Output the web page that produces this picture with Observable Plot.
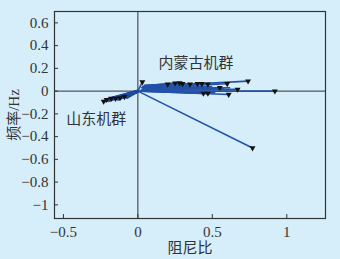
<!DOCTYPE html>
<html><head><meta charset="utf-8">
<script src="https://cdn.jsdelivr.net/npm/d3@7"></script>
<script src="https://cdn.jsdelivr.net/npm/@observablehq/plot@0.6"></script>
<style>
html,body{margin:0;padding:0;background:#d5eefa;}
#c{width:340px;height:259px;}
</style></head>
<body><div id="c"></div>
<script>
// 内蒙古机群 tracks: start (x0,y0) -> end (x,y), damping ratio vs frequency Hz
const nmX0 = [0.00, 0.02, 0.03, 0.03, 0.04, 0.04, 0.05, 0.05, 0.04, 0.05, 0.05, 0.05, 0.05, 0.05,
              0.03, 0.03, 0.04, 0.04, 0.04, 0.05, 0.05, 0.05, 0.05, 0.05, 0.05, 0.05, 0.00,
              0.02, 0.02, 0.02, 0.03, 0.03, 0.03, 0.03, 0.03, 0.00];
const nmY0 = [0.00, 0.03, 0.035, 0.04, 0.045, 0.05, 0.05, 0.045, 0.05, 0.045, 0.04, 0.045, 0.04, 0.04,
              0.02, 0.025, 0.03, 0.02, 0.03, 0.025, 0.02, 0.03, 0.02, 0.015, 0.02, 0.01, 0.00,
              0.01, 0.00, 0.005, 0.00, 0.00, 0.005, 0.00, 0.00, 0.00];
const nmX = [0.03, 0.10, 0.15, 0.20, 0.25, 0.28, 0.30, 0.35, 0.40, 0.43, 0.47, 0.55, 0.60, 0.74,
             0.12, 0.18, 0.25, 0.30, 0.35, 0.40, 0.45, 0.50, 0.55, 0.58, 0.62, 0.67, 0.92,
             0.15, 0.20, 0.30, 0.40, 0.44, 0.47, 0.52, 0.61, 0.77];
const nmY = [0.08, 0.05, 0.055, 0.06, 0.07, 0.072, 0.065, 0.06, 0.065, 0.065, 0.06, 0.06, 0.065, 0.088,
             0.04, 0.045, 0.04, 0.035, 0.04, 0.03, 0.035, 0.04, 0.03, 0.02, 0.03, 0.015, 0.0,
             0.02, 0.01, 0.0, -0.005, -0.02, -0.02, -0.015, -0.03, -0.50];
// 山东机群 tracks: start at the origin
const sdX0 = [0, 0, 0, 0, 0, 0, 0, 0, 0, 0, 0, 0];
const sdY0 = [0, 0, 0, 0, 0, 0, 0, 0, 0, 0, 0, 0];
const sdX = [-0.23, -0.21, -0.18, -0.15, -0.12, -0.09, -0.06, -0.04, -0.02, -0.20, -0.14, -0.08];
const sdY = [-0.09, -0.075, -0.065, -0.065, -0.06, -0.05, -0.03, -0.02, -0.01, -0.085, -0.075, -0.06];
// which end points carry a marker
const nmMarked = [0, 3, 4, 5, 6, 7, 8, 9, 10, 12, 13, 22, 25, 26, 31, 32, 34, 35];
const sdMarked = [0, 1, 2, 3, 4, 5];
// axis ticks
const xTicks = [-0.5, 0, 0.5, 1];
const yTicks = [0.6, 0.4, 0.2, 0, -0.2, -0.4, -0.6, -0.8, -1.0];
const labels = [
  {text: "内蒙古机群", x: 0.39, y: 0.245},
  {text: "山东机群", x: -0.28, y: -0.25}
];

const nm = nmX.map((x, i) => ({x0: nmX0[i], y0: nmY0[i], x, y: nmY[i], m: nmMarked.includes(i)}));
const sd = sdX.map((x, i) => ({x0: sdX0[i], y0: sdY0[i], x, y: sdY[i], m: sdMarked.includes(i)}));
const pts = nm.concat(sd);

const fmt = d => d === 0 ? "0" : (Number.isInteger(d) ? String(d) : d.toFixed(1)).replace("-", "−");
const ff = "'Times New Roman', 'Liberation Serif', 'Noto Sans CJK SC', serif";

const chart = Plot.plot({
  width: 340, height: 259,
  marginLeft: 54, marginRight: 15, marginTop: 11, marginBottom: 41,
  style: {background: "#d5eefa", fontSize: "15px", color: "#333", fontFamily: ff},
  x: {domain: [-0.56, 1.26]},
  y: {domain: [-1.12, 0.70]},
  marks: [
    Plot.ruleX([0], {stroke: "#333", strokeWidth: 1}),
    Plot.ruleY([0], {stroke: "#333", strokeWidth: 1}),
    Plot.link(pts, {x1: "x0", y1: "y0", x2: "x", y2: "y", stroke: "#2452a8", strokeWidth: 1.6}),
    Plot.link(sd, {x1: "x0", y1: "y0", x2: "x", y2: "y", stroke: "#1f4a9c", strokeWidth: 3}),
    Plot.dot(pts.filter(d => d.m), {x: "x", y: "y", symbol: "triangle", r: 2.2, fill: "#111", stroke: "none", rotate: 180}),
    Plot.text(labels, {x: "x", y: "y", text: "text", fontSize: 15, fill: "#333", fontFamily: ff}),
    Plot.axisX(xTicks, {ticks: xTicks, tickFormat: fmt, tickSize: -4, tickPadding: 12, stroke: "#333", fontSize: 15, fontFamily: ff,
      label: "阻尼比", labelAnchor: "center", labelArrow: "none", labelOffset: 34}),
    Plot.axisY(yTicks, {ticks: yTicks, tickFormat: fmt, tickSize: -4, tickPadding: 10, stroke: "#333", fontSize: 15, fontFamily: ff,
      label: "频率/Hz", labelAnchor: "center", labelArrow: "none", labelOffset: 46}),
    Plot.frame({stroke: "#333", strokeWidth: 1.2})
  ]
});
document.getElementById("c").appendChild(chart);
</script></body></html>
